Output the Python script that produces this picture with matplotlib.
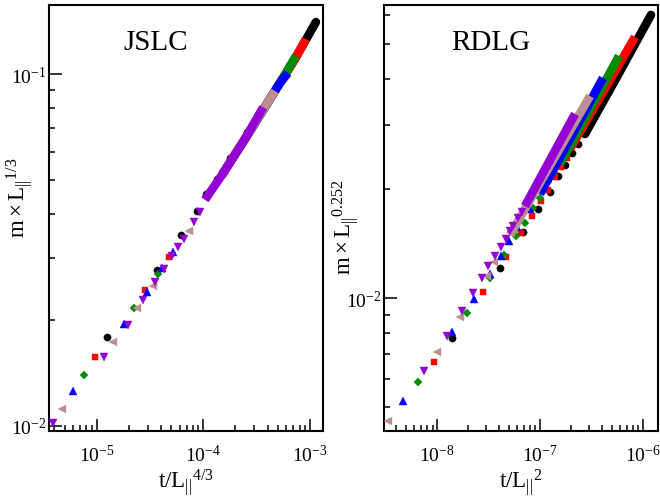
import matplotlib
matplotlib.use('Agg')
import matplotlib.pyplot as plt
from matplotlib.ticker import LogLocator, NullFormatter

plt.rcParams['font.family'] = ['Liberation Serif', 'DejaVu Serif']
plt.rcParams['mathtext.fontset'] = 'custom'
plt.rcParams['mathtext.rm'] = 'Liberation Serif'
plt.rcParams['mathtext.it'] = 'Liberation Serif:italic'
plt.rcParams['mathtext.bf'] = 'Liberation Serif:bold'

# one entry per system size, drawn in this order
colors = ['#000000', '#ff0000', '#008b00', '#0000ff', '#bc8f8f', '#9400d3']
markers = ['o', 's', 'D', '^', '<', 'v']
msizes = [5.2, 4.4, 3.9, 5.6, 5.6, 5.6]

# ---- JSLC (left): early, separated points ----
jslc_black_x = [1.241e-5, 3.674e-5, 6.17e-5, 8.65e-5, 1.058e-4, 1.342e-4, 1.775e-4, 2.548e-4]
jslc_black_y = [0.0179, 0.02777, 0.03493, 0.04071, 0.0456, 0.0503, 0.0576, 0.0683]
jslc_red_x = [9.58e-6, 2.855e-5, 4.73e-5]
jslc_red_y = [0.01571, 0.02431, 0.03018]
jslc_green_x = [7.60e-6, 2.237e-5, 3.754e-5]
jslc_green_y = [0.01396, 0.02157, 0.0270]
jslc_blue_x = [6.03e-6, 1.803e-5, 2.961e-5, 4.12e-5, 5.22e-5]
jslc_blue_y = [0.01258, 0.01946, 0.02404, 0.02803, 0.03124]
jslc_brown_x = [4.76e-6, 1.431e-5, 2.371e-5, 3.348e-5, 7.38e-5]
jslc_brown_y = [0.01116, 0.01733, 0.02157, 0.0250, 0.0357]
jslc_violet_x = [3.92e-6, 1.178e-5, 1.952e-5, 2.734e-5, 3.496e-5, 4.30e-5, 5.11e-5,
                 5.82e-5, 6.58e-5, 8.22e-5, 9.29e-5]
jslc_violet_y = [0.01018, 0.01565, 0.01937, 0.02282, 0.02557, 0.0279, 0.03031,
                 0.03216, 0.03395, 0.03787, 0.04052]

# ---- JSLC (left): dense late-time part ----
jslc_black_band_x = [2.454e-4, 3.78e-4, 5.22e-4, 7.22e-4, 9.35e-4, 1.136e-3]
jslc_black_band_y = [0.06533, 0.08056, 0.09428, 0.1103, 0.1266, 0.1405]
jslc_red_band_x = [1.494e-4, 2.454e-4, 3.78e-4, 5.22e-4, 7.22e-4, 9.15e-4]
jslc_red_band_y = [0.05161, 0.06533, 0.08056, 0.09428, 0.1103, 0.1257]
jslc_green_band_x = [1.494e-4, 2.454e-4, 3.78e-4, 5.22e-4, 7.38e-4]
jslc_green_band_y = [0.05161, 0.06533, 0.08056, 0.09428, 0.1125]
jslc_blue_band_x = [1.494e-4, 2.454e-4, 3.78e-4, 5.22e-4, 6.21e-4]
jslc_blue_band_y = [0.05161, 0.06533, 0.08056, 0.09428, 0.1007]
jslc_brown_band_x = [1.494e-4, 2.454e-4, 3.78e-4, 4.69e-4]
jslc_brown_band_y = [0.05161, 0.06533, 0.08056, 0.0895]
jslc_violet_band_x = [1.035e-4, 1.494e-4, 2.454e-4, 3.64e-4]
jslc_violet_band_y = [0.0439, 0.05161, 0.06533, 0.0804]

# ---- RDLG (right): early, separated points ----
rdlg_black_x = [1.381e-8, 4.106e-8, 6.877e-8, 9.50e-8, 1.252e-7, 1.508e-7, 1.751e-7, 2.036e-7, 2.344e-7]
rdlg_black_y = [7.757e-3, 1.207e-2, 1.517e-2, 1.759e-2, 1.962e-2, 2.172e-2, 2.329e-2, 2.503e-2, 2.656e-2]
rdlg_red_x = [9.35e-9, 2.768e-8, 4.666e-8, 6.488e-8, 8.30e-8, 1.023e-7, 1.204e-7, 1.400e-7, 1.602e-7, 1.820e-7]
rdlg_red_y = [6.675e-3, 1.041e-2, 1.295e-2, 1.511e-2, 1.679e-2, 1.847e-2, 1.987e-2, 2.150e-2, 2.291e-2, 2.430e-2]
rdlg_green_x = [6.531e-9, 1.933e-8, 3.282e-8, 4.462e-8, 5.838e-8, 7.144e-8, 8.60e-8, 1.0e-7, 1.204e-7, 1.369e-7]
rdlg_green_y = [5.88e-3, 9.093e-3, 1.135e-2, 1.314e-2, 1.485e-2, 1.609e-2, 1.766e-2, 1.882e-2, 2.091e-2, 2.220e-2]
rdlg_blue_x = [4.667e-9, 1.381e-8, 2.277e-8, 3.26e-8, 4.171e-8, 4.99e-8, 6.012e-8, 7.99e-8]
rdlg_blue_y = [5.213e-3, 8.044e-3, 9.937e-3, 1.164e-2, 1.308e-2, 1.433e-2, 1.565e-2, 1.759e-2]
rdlg_brown_x = [3.334e-9, 1.0e-8, 1.664e-8, 3.027e-8, 3.589e-8]
rdlg_brown_y = [4.592e-3, 7.086e-3, 8.846e-3, 1.148e-2, 1.254e-2]
rdlg_violet_x = [7.469e-9, 1.234e-8, 1.728e-8, 2.211e-8, 2.706e-8, 3.138e-8, 3.646e-8,
                 4.171e-8, 4.666e-8, 5.103e-8, 5.495e-8, 6.148e-8, 6.635e-8]
rdlg_violet_y = [6.304e-3, 7.842e-3, 9.226e-3, 1.032e-2, 1.133e-2, 1.223e-2, 1.308e-2,
                 1.380e-2, 1.454e-2, 1.532e-2, 1.581e-2, 1.658e-2, 1.722e-2]

# ---- RDLG (right): dense late-time part ----
rdlg_black_band_x = [2.743e-7, 5.254e-7, 1.204e-6]
rdlg_black_band_y = [2.830e-2, 3.928e-2, 6.02e-2]
rdlg_red_band_x = [1.960e-7, 8.41e-7]
rdlg_red_band_y = [2.573e-2, 5.236e-2]
rdlg_green_band_x = [1.566e-7, 5.88e-7]
rdlg_green_band_y = [2.339e-2, 4.642e-2]
rdlg_blue_band_x = [1.0e-7, 4.106e-7]
rdlg_blue_band_y = [1.934e-2, 4.037e-2]
rdlg_brown_band_x = [5.103e-8, 3.068e-7]
rdlg_brown_band_y = [1.491e-2, 3.601e-2]
rdlg_violet_band_x = [7.144e-8, 2.192e-7]
rdlg_violet_band_y = [1.792e-2, 3.213e-2]

jslc_pts = [(jslc_black_x, jslc_black_y), (jslc_red_x, jslc_red_y), (jslc_green_x, jslc_green_y),
            (jslc_blue_x, jslc_blue_y), (jslc_brown_x, jslc_brown_y), (jslc_violet_x, jslc_violet_y)]
jslc_bands = [(jslc_black_band_x, jslc_black_band_y), (jslc_red_band_x, jslc_red_band_y),
              (jslc_green_band_x, jslc_green_band_y), (jslc_blue_band_x, jslc_blue_band_y),
              (jslc_brown_band_x, jslc_brown_band_y), (jslc_violet_band_x, jslc_violet_band_y)]
rdlg_pts = [(rdlg_black_x, rdlg_black_y), (rdlg_red_x, rdlg_red_y), (rdlg_green_x, rdlg_green_y),
            (rdlg_blue_x, rdlg_blue_y), (rdlg_brown_x, rdlg_brown_y), (rdlg_violet_x, rdlg_violet_y)]
rdlg_bands = [(rdlg_black_band_x, rdlg_black_band_y), (rdlg_red_band_x, rdlg_red_band_y),
              (rdlg_green_band_x, rdlg_green_band_y), (rdlg_blue_band_x, rdlg_blue_band_y),
              (rdlg_brown_band_x, rdlg_brown_band_y), (rdlg_violet_band_x, rdlg_violet_band_y)]


def draw_panel(ax, pts, bands, xlim, ylim, title, xlabel, ylabel):
    for i in range(len(pts)):
        z = 3 + i
        caps = 'round' if markers[i] == 'o' else 'butt'
        ax.plot(bands[i][0], bands[i][1], '-', color=colors[i], lw=6.2,
                solid_capstyle=caps, zorder=z)
        ax.plot(pts[i][0], pts[i][1], linestyle='none', marker=markers[i],
                ms=msizes[i], color=colors[i], mec=colors[i], mew=0.3, zorder=z)
    ax.set_xscale('log')
    ax.set_yscale('log')
    ax.set_xlim(*xlim)
    ax.set_ylim(*ylim)
    for axis in (ax.xaxis, ax.yaxis):
        axis.set_major_locator(LogLocator(base=10, numticks=12))
        axis.set_minor_locator(LogLocator(base=10, subs=range(2, 10), numticks=12))
        axis.set_minor_formatter(NullFormatter())
    ax.tick_params(which='both', direction='in', top=False, right=False, width=1.1)
    ax.tick_params(which='major', length=9, labelsize=14, pad=9)
    ax.tick_params(axis='y', which='major', pad=2)
    ax.tick_params(which='minor', length=4.5)
    for s in ax.spines.values():
        s.set_linewidth(1.5)
    ax.text(0.39, 0.913, title, transform=ax.transAxes, fontsize=21,
            ha='center', va='center')
    ax.set_xlabel(xlabel, fontsize=16.5, labelpad=1)
    ax.set_ylabel(ylabel, fontsize=16.5)


fig = plt.figure(figsize=(6.6, 5.02), dpi=100)
ax1 = fig.add_axes([0.0742, 0.1394, 0.4152, 0.8486])
ax2 = fig.add_axes([0.5818, 0.1394, 0.4152, 0.8486])

draw_panel(ax1, jslc_pts, jslc_bands, (3.573e-6, 1.324e-3), (9.659e-3, 0.1571), 'JSLC',
           r'$\mathrm{t/L_{||}{}^{4/3}}$', r'$\mathrm{m\times L_{||}{}^{1/3}}$')
draw_panel(ax2, rdlg_pts, rdlg_bands, (3.03e-9, 1.41e-6), (4.305e-3, 0.0641), 'RDLG',
           r'$\mathrm{t/L_{||}{}^{2}}$', r'$\mathrm{m\times L_{||}{}^{0.252}}$')
ax1.yaxis.set_label_coords(-0.05, 0.55)
ax2.yaxis.set_label_coords(-0.085, 0.48)

fig.savefig('out.png', dpi=100)
